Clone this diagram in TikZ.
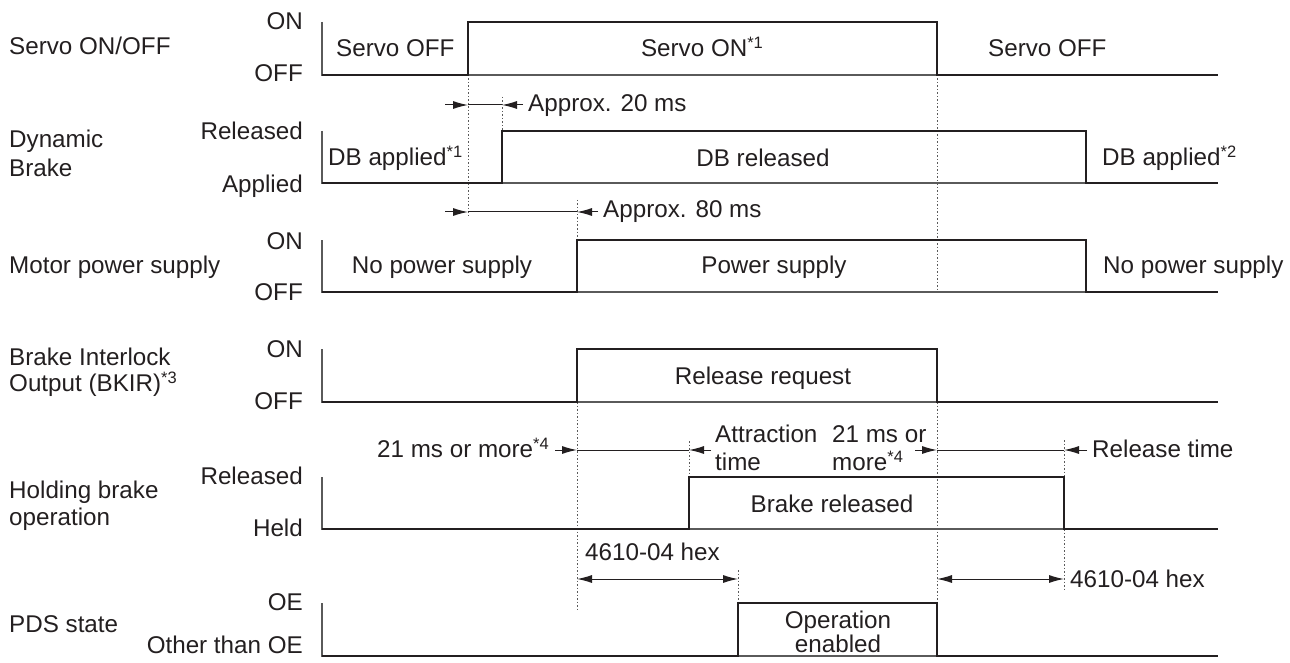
\documentclass[tikz,border=0pt]{standalone}
\usepackage{fontspec}
\setmainfont{Liberation Sans}
\usetikzlibrary{arrows.meta}
\definecolor{ink}{HTML}{231F20}
\definecolor{thinc}{HTML}{5A5A5A}
\newcommand{\supn}[1]{\raisebox{8pt}{\fontsize{16.5}{16.5}\selectfont *#1}}
\begin{document}
\begin{tikzpicture}[x=1pt,y=-1pt,
  txt/.style={inner sep=0pt, font=\fontsize{24.2}{28}\selectfont, text=ink},
  lbl/.style={txt, anchor=base east},
  ttl/.style={txt, anchor=base west},
  ctr/.style={txt, anchor=base},
  sigline/.style={line width=2.5pt, draw=ink, line join=miter},
  frame/.style={line width=1.1pt, draw=thinc},
  dots/.style={line width=0.9pt, draw=thinc, dash pattern=on 1.5pt off 2pt},
  dim/.style={line width=1pt, draw=ink},
  tip/.style={-{Latex[length=15pt,width=8pt]}, line width=1pt, draw=ink}
]
\useasboundingbox (0,0) rectangle (1290,663);

% ---------- row titles and level labels ----------
\node[ttl] (t1) at (9,55) {Servo ON/OFF};
\node[lbl] (l1a) at (303,30) {ON};
\node[lbl] (l1b) at (303,82) {OFF};

\node[ttl] (t2a) at (9,148) {Dynamic};
\node[ttl] (t2b) at (9,177) {Brake};
\node[lbl] (l2a) at (303,140) {Released};
\node[lbl] (l2b) at (303,193) {Applied};

\node[ttl] (t3) at (9,273) {Motor power supply};
\node[lbl] (l3a) at (303,249) {ON};
\node[lbl] (l3b) at (303,300) {OFF};

\node[ttl] (t4a) at (9,365) {Brake Interlock};
\node[ttl] (t4b) at (9,391) {Output (BKIR)\supn{3}};
\node[lbl] (l4a) at (303,357) {ON};
\node[lbl] (l4b) at (303,409) {OFF};

\node[ttl] (t5a) at (9,498) {Holding brake};
\node[ttl] (t5b) at (9,525) {operation};
\node[lbl] (l5a) at (303,484) {Released};
\node[lbl] (l5b) at (303,536) {Held};

\node[ttl] (t6) at (9,632) {PDS state};
\node[lbl] (l6a) at (303,610) {OE};
\node[lbl] (l6b) at (303,653) {Other than OE};

% ---------- frames (thin) ----------
\draw[frame] (322,22) -- (322,75) -- (1218,75);
\draw[frame] (322,131) -- (322,183) -- (1218,183);
\draw[frame] (322,240) -- (322,292) -- (1218,292);
\draw[frame] (322,349) -- (322,402) -- (1218,402);
\draw[frame] (322,477) -- (322,529) -- (1218,529);
\draw[frame] (322,603) -- (322,656) -- (1218,656);

% ---------- dotted guides ----------
\draw[dots] (468,75) -- (468,217);
\draw[dots] (502,97) -- (502,131);
\draw[dots] (577,200) -- (577,240);
\draw[dots] (577,402) -- (577,610);
\draw[dots] (937,75) -- (937,292);
\draw[dots] (937,402) -- (937,603);
\draw[dots] (689,441) -- (689,477);
\draw[dots] (1064,440) -- (1064,477);
\draw[dots] (1064,529) -- (1064,592);
\draw[dots] (738,570) -- (738,603);

% ---------- signals ----------
\draw[sigline] (322,75) -- (468,75) -- (468,22) -- (937,22) -- (937,75) -- (1218,75);
\draw[sigline] (322,183) -- (502,183) -- (502,131) -- (1086,131) -- (1086,183) -- (1218,183);
\draw[sigline] (322,292) -- (577,292) -- (577,240) -- (1086,240) -- (1086,292) -- (1218,292);
\draw[sigline] (322,402) -- (577,402) -- (577,349) -- (937,349) -- (937,402) -- (1218,402);
\draw[sigline] (322,529) -- (689,529) -- (689,477) -- (1064,477) -- (1064,529) -- (1218,529);
\draw[sigline] (322,656) -- (738,656) -- (738,603) -- (937,603) -- (937,656) -- (1218,656);

% ---------- state texts ----------
\node[ttl] (s1a) at (336,57) {Servo OFF};
\node[ctr] (s1b) at (702,57) {Servo ON\supn{1}};
\node[ttl] (s1c) at (988,57) {Servo OFF};

\node[ttl] (s2a) at (328,166) {DB applied\supn{1}};
\node[ctr] (s2b) at (763,167) {DB released};
\node[ttl] (s2c) at (1102,166) {DB applied\supn{2}};

\node[ctr] (s3a) at (442,273) {No power supply};
\node[ctr] (s3b) at (774,273) {Power supply};
\node[ttl] (s3c) at (1103,273) {No power supply};

\node[ctr] (s4) at (763,384) {Release request};
\node[ctr] (s5) at (832,512) {Brake released};
\node[ctr] (s6a) at (838,628) {Operation};
\node[ctr] (s6b) at (838,652) {enabled};

% ---------- timing annotations ----------
\coordinate (a20l) at (445,105); \coordinate (a20a) at (468,105);
\coordinate (a20b) at (502,105); \coordinate (a20r) at (523,105);
\draw[tip] (a20l) -- (a20a);
\draw[dim] (a20a) -- (a20b);
\draw[tip] (a20r) -- (a20b);
\node[ttl] (n20) at (528,112) {Approx. 20 ms};

\coordinate (a80l) at (445,212); \coordinate (a80a) at (468,212);
\coordinate (a80b) at (577,212); \coordinate (a80r) at (598,212);
\draw[tip] (a80l) -- (a80a);
\draw[dim] (a80a) -- (a80b);
\draw[tip] (a80r) -- (a80b);
\node[ttl] (n80) at (603,218) {Approx. 80 ms};

\coordinate (b1l) at (555,450); \coordinate (b1a) at (577,450);
\coordinate (b1b) at (689,450); \coordinate (b1r) at (711,450);
\draw[tip] (b1l) -- (b1a);
\draw[dim] (b1a) -- (b1b);
\draw[tip] (b1r) -- (b1b);
\node[lbl] (n21a) at (549,457) {21 ms or more\supn{4}};
\node[ttl] (natt1) at (715,442) {Attraction};
\node[ttl] (natt2) at (715,470) {time};

\coordinate (b2l) at (915,450); \coordinate (b2a) at (937,450);
\coordinate (b2b) at (1064,450); \coordinate (b2r) at (1087,450);
\draw[tip] (b2l) -- (b2a);
\draw[dim] (b2a) -- (b2b);
\draw[tip] (b2r) -- (b2b);
\node[ttl] (n21b1) at (832,442) {21 ms or};
\node[ttl] (n21b2) at (832,470) {more\supn{4}};
\node[ttl] (nrel) at (1092,457) {Release time};

\coordinate (h1a) at (577,579); \coordinate (h1b) at (738,579);
\draw[dim, {Latex[length=15pt,width=8pt]}-{Latex[length=15pt,width=8pt]}] (h1a) -- (h1b);
\node[ttl] (nh1) at (585,560) {4610-04 hex};

\coordinate (h2a) at (937,579); \coordinate (h2b) at (1064,579);
\draw[dim, {Latex[length=15pt,width=8pt]}-{Latex[length=15pt,width=8pt]}] (h2a) -- (h2b);
\node[ttl] (nh2) at (1070,587) {4610-04 hex};
\end{tikzpicture}
\end{document}
